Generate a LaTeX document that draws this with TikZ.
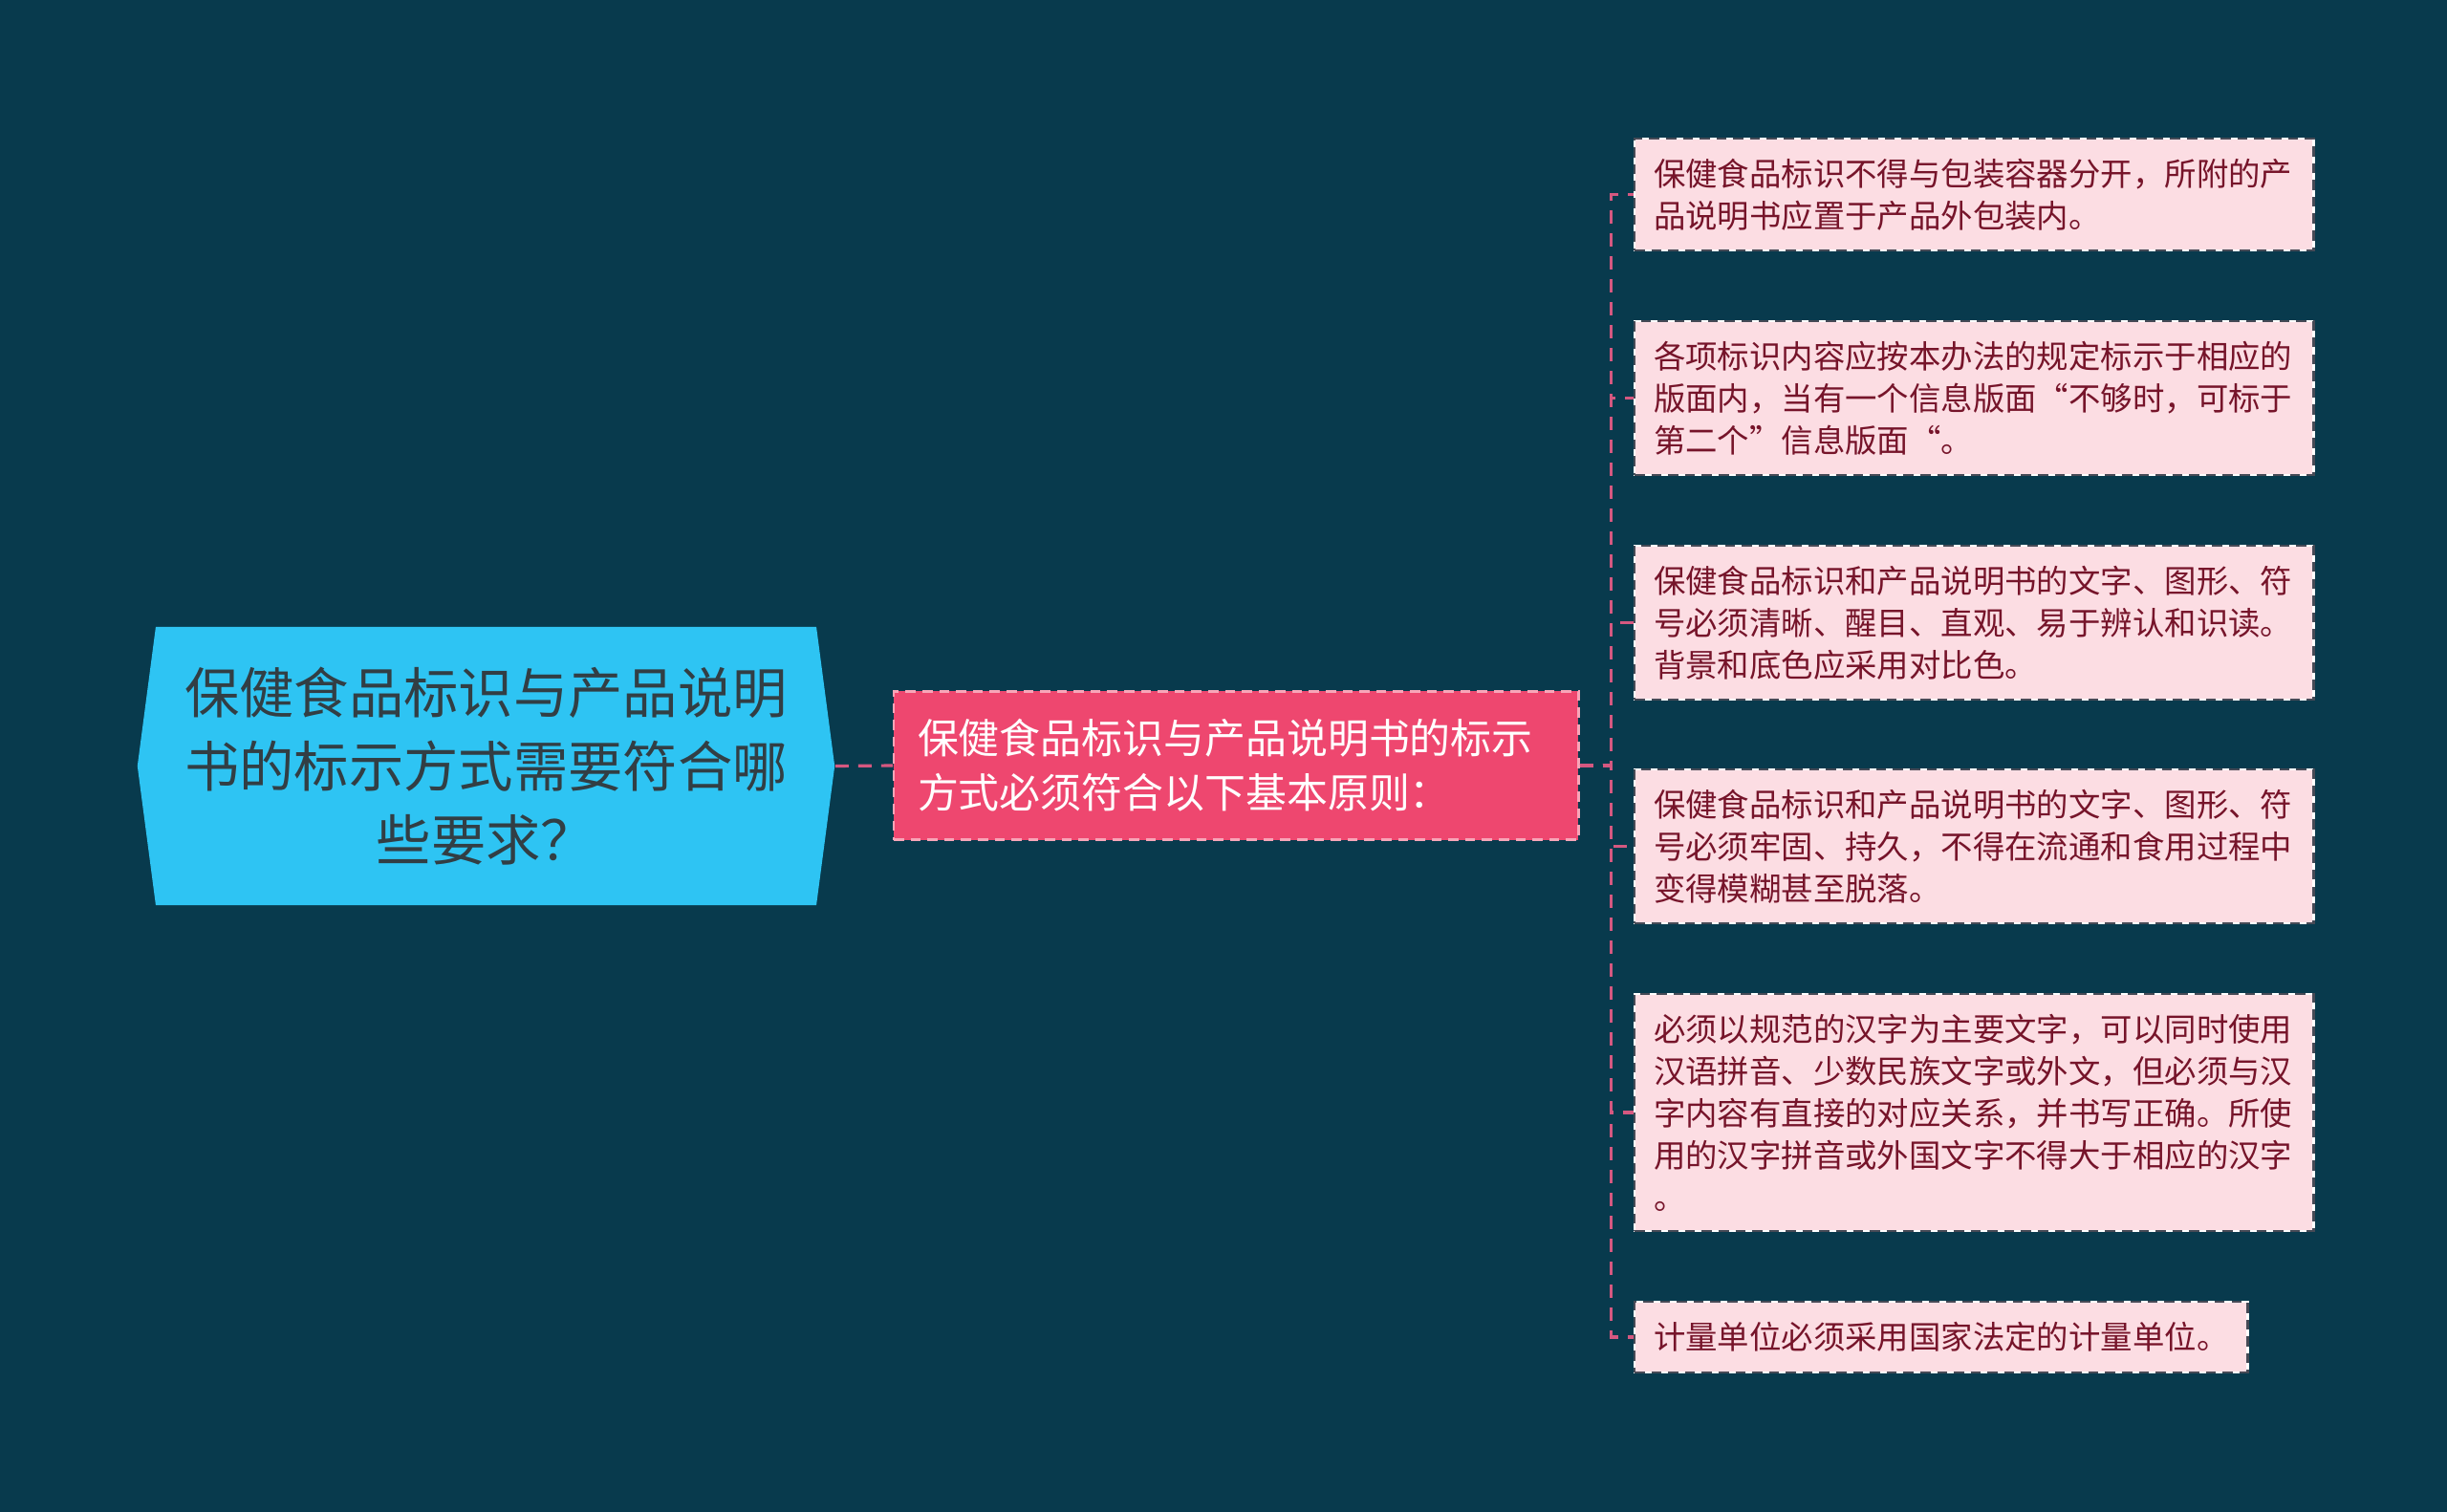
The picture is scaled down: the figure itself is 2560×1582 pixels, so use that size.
\documentclass[tikz,border=0pt]{standalone}
\usepackage{fontspec}
\newfontfamily\cjk{Noto Sans CJK SC}
\usepackage{tikz}
\usetikzlibrary{shapes.symbols}
\definecolor{fond}{RGB}{8,58,77}
\definecolor{cyanracine}{RGB}{46,196,243}
\definecolor{grisracine}{RGB}{50,62,68}
\definecolor{rosemilieu}{RGB}{238,71,111}
\definecolor{bordmilieu}{RGB}{248,165,184}
\definecolor{rosefeuille}{RGB}{252,221,227}
\definecolor{textefeuille}{RGB}{118,20,42}
\definecolor{bordfeuille}{RGB}{70,74,86}
\definecolor{lienrose}{RGB}{213,88,128}
\tikzstyle{lien}=[line width=0.9pt,draw=lienrose,dash pattern=on 0.14cm off 0.1cm]
\tikzstyle{racine}=[signal,signal to=west and east,signal pointer angle=165,fill=cyanracine,text=grisracine,minimum width=7.29cm,minimum height=2.91cm,text width=6.4cm,align=center,font=\cjk\fontsize{16.3pt}{21.8pt}\selectfont]
\tikzstyle{milieu}=[anchor=west,fill=rosemilieu,draw=bordmilieu,line width=0.6pt,dash pattern=on 3pt off 2pt,text=white,text width=6.66cm,inner xsep=0.25cm,inner ysep=0.29cm,align=left,font=\cjk\fontsize{12.2pt}{16.2pt}\selectfont]
\tikzstyle{feuille}=[anchor=west,fill=rosefeuille,draw=white,line width=0.6pt,postaction={draw=bordfeuille,line width=0.6pt,dash pattern=on 3pt off 2pt},text=textefeuille,inner xsep=0.2cm,inner ysep=0.21cm,align=left,font=\cjk\fontsize{9.5pt}{12.5pt}\selectfont]
\tikzstyle{large}=[text width=6.7cm]
\begin{document}
\begin{tikzpicture}[x=0.01cm,y=-0.01cm]
\fill[fond] (0,0) rectangle (2560,1582);
\useasboundingbox (0,0) rectangle (2560,1582);
%racine
\node[racine] (R) at (508.5,801.5) {保健食品标识与产品说明\\书的标示方式需要符合哪\\些要求？};
\node[milieu] (M) at (934,801) {保健食品标识与产品说明书的标示\\方式必须符合以下基本原则：};
\draw[lien] (R.east) -- (M.west);
%feuilles
\node[feuille,large] (F1) at (1709,203.5) {保健食品标识不得与包装容器分开，所附的产\\品说明书应置于产品外包装内。};
\node[feuille,large] (F2) at (1709,416.5) {各项标识内容应按本办法的规定标示于相应的\\版面内，当有一个信息版面“不够时，可标于\\第二个”信息版面“。};
\node[feuille,large] (F3) at (1709,651.5) {保健食品标识和产品说明书的文字、图形、符\\号必须清晰、醒目、直观、易于辨认和识读。\\背景和底色应采用对比色。};
\node[feuille,large] (F4) at (1709,885.5) {保健食品标识和产品说明书的文字、图形、符\\号必须牢固、持久，不得在流通和食用过程中\\变得模糊甚至脱落。};
\node[feuille,large] (F5) at (1709,1164) {必须以规范的汉字为主要文字，可以同时使用\\汉语拼音、少数民族文字或外文，但必须与汉\\字内容有直接的对应关系，并书写正确。所使\\用的汉字拼音或外国文字不得大于相应的汉字\\。};
\node[feuille] (F6) at (1709,1399) {计量单位必须采用国家法定的计量单位。};
%liens
\draw[lien] (M.east) -- ++(33,0) |- (F1.west);
\draw[lien] (M.east) -- ++(33,0) |- (F2.west);
\draw[lien] (M.east) -- ++(33,0) |- (F3.west);
\draw[lien] (M.east) -- ++(33,0) |- (F4.west);
\draw[lien] (M.east) -- ++(33,0) |- (F5.west);
\draw[lien] (M.east) -- ++(33,0) |- (F6.west);
\end{tikzpicture}
\end{document}
